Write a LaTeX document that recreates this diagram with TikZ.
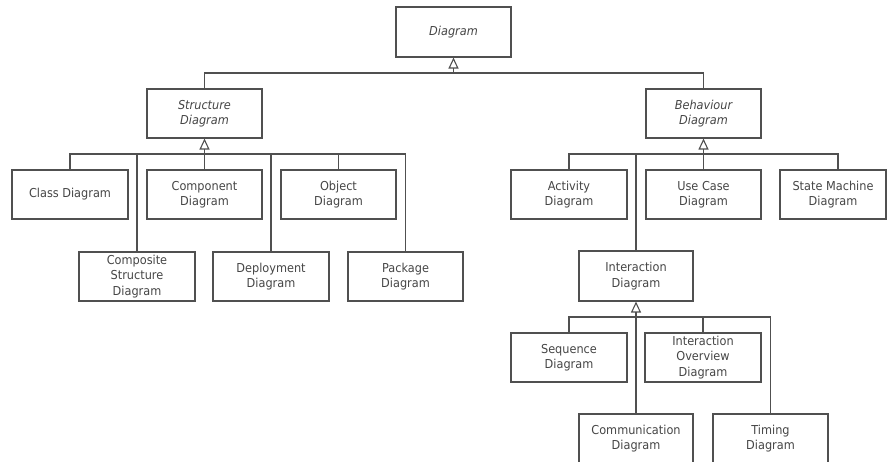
\documentclass[tikz,border=0pt]{standalone}
\usepackage{fontspec}
\setmainfont[FakeStretch=0.92]{DejaVu Sans}
\usetikzlibrary{arrows.meta}
\definecolor{umlline}{HTML}{505050}
\definecolor{umltext}{HTML}{454545}

\begin{document}
\begin{tikzpicture}[x=1pt,y={(0,-1pt)},
  box/.style={draw=umlline,line width=1.1pt,minimum width=115pt,minimum height=49pt,inner sep=0pt,align=center,text=umltext,font=\fontsize{12.3}{15.5}\selectfont},
  abstractbox/.style={box,font=\fontsize{12.3}{15.5}\selectfont\itshape},
  wire/.style={draw=umlline,line width=1.1pt},
  gen/.style={wire,-{Triangle[open,width=10pt,length=11pt]}}]

\useasboundingbox (0,0) rectangle (887,461);

% top level
\node[abstractbox,minimum height=50pt] (diagram) at (453.5,32) {Diagram};
\node[abstractbox] (structure) at (204.5,113.5) {Structure\\Diagram};
\node[abstractbox] (behaviour) at (703.5,113.5) {Behaviour\\Diagram};

\coordinate (topbus) at (453.5,73);
\draw[wire] (structure.north) |- (topbus);
\draw[wire] (behaviour.north) |- (topbus);
\draw[gen] (topbus) -- (diagram.south);

% structure diagrams
\node[box,minimum width=116pt] (class) at (70,194.5) {Class Diagram};
\node[box] (component) at (204.5,194.5) {Component\\Diagram};
\node[box] (object) at (338.5,194.5) {Object\\Diagram};
\node[box,minimum width=116pt] (composite) at (137,276.5) {Composite\\Structure\\Diagram};
\node[box,minimum width=116pt] (deployment) at (271,276.5) {Deployment\\Diagram};
\node[box] (package) at (405.5,276.5) {Package\\Diagram};

\coordinate (sbus) at (204.5,154);
\foreach \n in {class,component,object,composite,deployment,package}
  \draw[wire] (\n.north) |- (sbus);
\draw[gen] (sbus) -- (structure.south);

% behaviour diagrams
\node[box,minimum width=116pt] (activity) at (569,194.5) {Activity\\Diagram};
\node[box] (usecase) at (703.5,194.5) {Use Case\\Diagram};
\node[box,minimum width=106pt] (statemachine) at (833,194.5) {State Machine\\Diagram};
\node[box,minimum width=114pt,minimum height=50pt] (interaction) at (636,276) {Interaction\\Diagram};

\coordinate (bbus) at (703.5,154);
\foreach \n in {activity,usecase,interaction}
  \draw[wire] (\n.north) |- (bbus);
\draw[wire] ([xshift=5pt]statemachine.north) |- (bbus);
\draw[gen] (bbus) -- (behaviour.south);

% interaction diagrams
\node[box,minimum width=116pt] (sequence) at (569,357.5) {Sequence\\Diagram};
\node[box,minimum width=116pt] (overview) at (703,357.5) {Interaction\\Overview\\Diagram};
\node[box,minimum width=114pt] (communication) at (636,438.5) {Communication\\Diagram};
\node[box] (timing) at (770.5,438.5) {Timing\\Diagram};

\coordinate (ibus) at (636,317);
\foreach \n in {sequence,overview,communication,timing}
  \draw[wire] (\n.north) |- (ibus);
\draw[gen] (ibus) -- (interaction.south);

\end{tikzpicture}
\end{document}
